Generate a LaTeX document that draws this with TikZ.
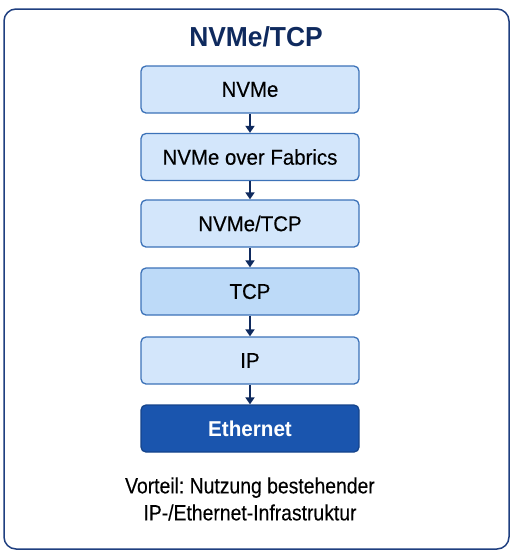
\documentclass[tikz,border=0pt]{standalone}
\usepackage{fontspec}
\setmainfont{Liberation Sans}
\newfontfamily\boxfont[FakeStretch=0.95,FakeBold=0.3]{Liberation Sans}
\newfontfamily\notefont[FakeStretch=0.88,FakeBold=0.2]{Liberation Sans}
\newfontfamily\titlefont[FakeStretch=0.96]{Liberation Sans}
\frenchspacing
\usetikzlibrary{arrows.meta}
\definecolor{navy}{HTML}{0F2A5E}
\definecolor{frame}{HTML}{1F3F80}
\definecolor{boxline}{HTML}{3C72B8}
\definecolor{lightfill}{HTML}{D3E6FB}
\definecolor{midfill}{HTML}{BDDAF8}
\definecolor{darkfill}{HTML}{1A55AE}
\begin{document}
\begin{tikzpicture}[x=1pt,y=-1pt,
  layer/.style={draw=boxline, line width=1.3pt, fill=lightfill, rounded corners=5pt,
    minimum width=218pt, minimum height=47pt, inner sep=0pt, font=\boxfont\fontsize{21.5}{24}\selectfont},
  link/.style={draw=navy, line width=1.8pt, -{Triangle[length=7pt,width=9pt]}}]
\useasboundingbox (0,0) rectangle (520,558);
\draw[frame, line width=1.5pt, rounded corners=12pt] (4,9) rectangle (509,549);
\node[font=\titlefont\bfseries\fontsize{27.5}{30}\selectfont, text=navy] (title) at (256,37) {NVMe/TCP};
\node[layer] (n1) at (250,89.5) {NVMe};
\node[layer] (n2) at (250,157) {NVMe over Fabrics};
\node[layer] (n3) at (250,223.5) {NVMe/TCP};
\node[layer, fill=midfill] (n4) at (250,291.5) {TCP};
\node[layer] (n5) at (250,360.5) {IP};
\node[layer, fill=darkfill, draw=darkfill!80!black, text=white, font=\titlefont\bfseries\fontsize{21.5}{24}\selectfont] (n6) at (250,428.5) {Ethernet};
\draw[link] (n1) -- (n2);
\draw[link] (n2) -- (n3);
\draw[link] (n3) -- (n4);
\draw[link] (n4) -- (n5);
\draw[link] (n5) -- (n6);
\node[align=center, font=\notefont\fontsize{22}{27}\selectfont] (note) at (250,499) {Vorteil: Nutzung bestehender\\IP-/Ethernet-Infrastruktur};
\end{tikzpicture}
\end{document}
